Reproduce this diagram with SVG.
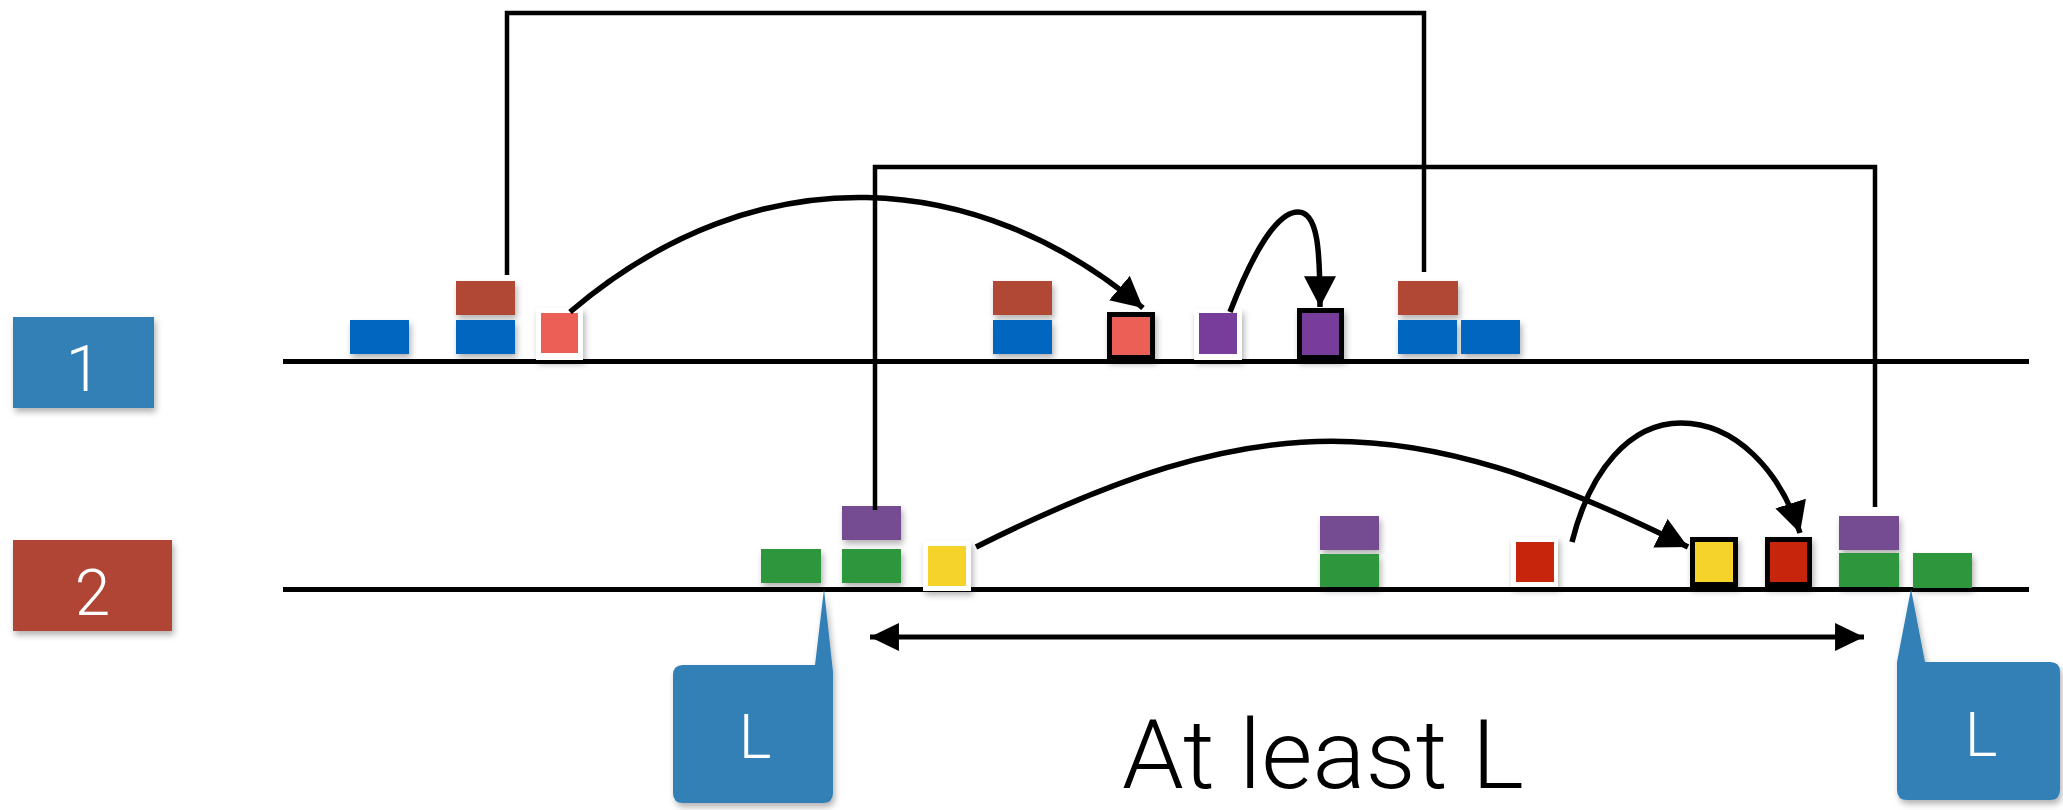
<svg xmlns="http://www.w3.org/2000/svg" width="2063" height="810" viewBox="0 0 2063 810">
<defs>
  <filter id="sh" x="-30%" y="-30%" width="160%" height="170%">
    <feDropShadow dx="2" dy="4" stdDeviation="3" flood-color="#000" flood-opacity="0.3"/>
  </filter>
  <marker id="ah" markerUnits="userSpaceOnUse" markerWidth="32" markerHeight="32" viewBox="0 0 28 28" refX="27" refY="14" orient="auto">
    <path d="M0,0 L27,14 L0,28 Z" fill="#000"/>
  </marker>
  <marker id="ah2" markerUnits="userSpaceOnUse" markerWidth="30" markerHeight="30" viewBox="0 0 28 26" refX="27" refY="13" orient="auto-start-reverse">
    <path d="M0,0 L27,13 L0,26 Z" fill="#000"/>
  </marker>
  <style>
    .lbl { font-family: Roboto, "Liberation Sans", sans-serif; font-weight: 300; fill: #fff; text-anchor: middle; }
    .base { stroke: #000; stroke-width: 5; fill: none; }
    .conn { stroke: #000; stroke-width: 4.5; fill: none; }
    .arc { stroke: #000; stroke-width: 5.5; fill: none; }
    .blue { fill: #0466c0; }
    .brick { fill: #b14735; }
    .green { fill: #2f973e; }
    .purp2 { fill: #744b91; }
    .salmon { fill: #ec5e57; }
    .purp { fill: #783d9b; }
    .yellow { fill: #f5d329; }
    .red { fill: #c7270b; }
    .wb { fill: #fff; }
    .bold { stroke: #000; stroke-width: 5; }
    .tag { fill: #3180b5; }
  </style>
</defs>
<rect width="2063" height="810" fill="#fff"/>

<g id="lane1">
  <rect class="tag" x="13" y="317" width="141" height="91" filter="url(#sh)"/>
  <text class="lbl" x="83.5" y="391" font-size="64">1</text>
</g>
<g id="lane2">
  <rect x="13" y="540" width="159" height="91" fill="#b04536" filter="url(#sh)"/>
  <text class="lbl" x="92.5" y="615" font-size="64">2</text>
</g>

<g id="baselines">
  <line class="base" x1="283" y1="361.5" x2="2029" y2="361.5"/>
  <line class="base" x1="283" y1="589.5" x2="2029" y2="589.5"/>
</g>

<g id="row1-blocks" filter="url(#sh)">
  <rect class="blue" x="350" y="320" width="59" height="34"/>
  <rect class="brick" x="456" y="281" width="59" height="34"/>
  <rect class="blue" x="456" y="320" width="59" height="34"/>
  <rect class="brick" x="993" y="281" width="59" height="34"/>
  <rect class="blue" x="993" y="320" width="59" height="34"/>
  <rect class="brick" x="1398" y="281" width="60" height="34"/>
  <rect class="blue" x="1398" y="320" width="59" height="34"/>
  <rect class="blue" x="1461" y="320" width="59" height="34"/>
</g>
<g id="row1-small">
  <g id="salmon-src" filter="url(#sh)">
    <rect class="wb" x="536" y="308" width="47" height="52"/>
    <rect class="salmon" x="541" y="313" width="37" height="40"/>
  </g>
  <g id="salmon-dst" filter="url(#sh)">
    <rect class="salmon bold" x="1109.5" y="314.5" width="43" height="43"/>
  </g>
  <g id="purple-src" filter="url(#sh)">
    <rect class="wb" x="1194" y="309" width="48" height="51"/>
    <rect class="purp" x="1199" y="313" width="38" height="41"/>
  </g>
  <g id="purple-dst" filter="url(#sh)">
    <rect class="purp bold" x="1299.5" y="310.5" width="42" height="47"/>
  </g>
</g>

<g id="row2-blocks" filter="url(#sh)">
  <rect class="green" x="761" y="549" width="60" height="34"/>
  <rect class="purp2" x="842" y="506" width="59" height="34"/>
  <rect class="green" x="842" y="549" width="59" height="34"/>
  <rect class="purp2" x="1320" y="516" width="59" height="34"/>
  <rect class="green" x="1320" y="554" width="59" height="33"/>
  <rect class="purp2" x="1839" y="516" width="60" height="34"/>
  <rect class="green" x="1839" y="553" width="60" height="34"/>
  <rect class="green" x="1913" y="553" width="59" height="35"/>
</g>
<g id="row2-small">
  <g id="yellow-src" filter="url(#sh)">
    <rect class="wb" x="923" y="541" width="48" height="50"/>
    <rect class="yellow" x="928" y="546" width="38" height="40"/>
  </g>
  <g id="red-src" filter="url(#sh)">
    <rect class="wb" x="1511" y="537" width="47" height="50"/>
    <rect class="red" x="1516" y="542" width="38" height="40"/>
  </g>
  <g id="yellow-dst" filter="url(#sh)">
    <rect class="yellow bold" x="1692.5" y="539.5" width="43" height="45"/>
  </g>
  <g id="red-dst" filter="url(#sh)">
    <rect class="red bold" x="1767.5" y="539.5" width="42" height="45"/>
  </g>
</g>

<g id="connectors">
  <path class="conn" d="M507,275 V13 H1424 V272"/>
  <path class="conn" d="M875,510 V167 H1875 V507"/>
  <path class="arc" d="M570,312 C760,150 980,170 1143,308" marker-end="url(#ah)"/>
  <path class="arc" d="M1230,312 C1250,260 1275,212 1298,212 C1318,212 1320,250 1320,307" marker-end="url(#ah)"/>
  <path class="arc" d="M976,547 C1258,406 1406,406 1688,547" marker-end="url(#ah)"/>
  <path class="arc" d="M1572,542 C1590,470 1630,423 1681,423 C1735,423 1780,470 1800,533" marker-end="url(#ah)"/>
  <line x1="870" y1="637" x2="1864" y2="637" stroke="#000" stroke-width="5" marker-start="url(#ah2)" marker-end="url(#ah2)"/>
</g>

<g id="callout-left" filter="url(#sh)">
  <path class="tag" d="M683,665 H815 L824,589 L833,672 V793 Q833,803 823,803 H683 Q673,803 673,793 V675 Q673,665 683,665 Z"/>
  <text class="lbl" x="755" y="758" font-size="62">L</text>
</g>
<g id="callout-right" filter="url(#sh)">
  <path class="tag" d="M1897,662 L1911,589 L1925,662 H2050 Q2060,662 2060,672 V790 Q2060,800 2050,800 H1907 Q1897,800 1897,790 Z"/>
  <text class="lbl" x="1981" y="756" font-size="62">L</text>
</g>

<text id="caption" x="1122" y="788" font-family="Roboto, 'Liberation Sans', sans-serif" font-weight="300" font-size="97" textLength="402" lengthAdjust="spacingAndGlyphs" fill="#000">At least L</text>
</svg>
